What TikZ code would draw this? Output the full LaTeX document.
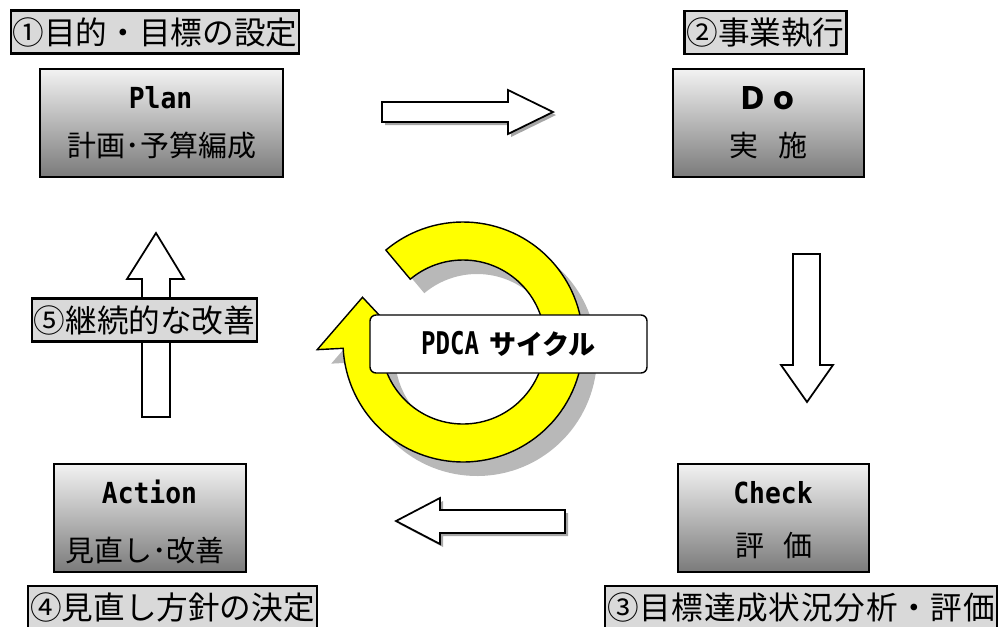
\documentclass[tikz,border=0pt]{standalone}
\usepackage{fontspec}
\newfontfamily\jpfont{Noto Sans CJK JP}
\newfontfamily\ttbold{DejaVu Sans Mono}
\definecolor{ringyellow}{RGB}{255, 255, 0}
\definecolor{taggray}{RGB}{217, 217, 217}
\newlength\pu
\setlength\pu{0.02cm}

\begin{document}
\begin{tikzpicture}[x=0.02cm, y=0.02cm,
  tag/.style={draw=black, line width=1.3pt, fill=taggray, inner xsep=2\pu, inner ysep=0pt,
    minimum height=43\pu, font=\jpfont\fontsize{18pt}{20pt}\selectfont},
  phase/.style={draw=black, line width=1pt, top color=black!5, bottom color=black!52,
    minimum height=108\pu, inner sep=0pt},
  title/.style={anchor=base, inner sep=0pt, font=\ttbold\bfseries\fontsize{15pt}{17pt}\selectfont},
  sub/.style={anchor=base, inner sep=0pt, font=\jpfont\fontsize{16.5pt}{18pt}\selectfont},
  blockarr/.style={draw=black, line width=1pt, fill=white, line join=miter},
  arrshadow/.style={fill=black!35},
  cyclebox/.style={draw=black, line width=0.8pt, fill=white, rounded corners=6\pu,
    minimum width=277\pu, minimum height=58\pu, inner sep=0pt}]
  \useasboundingbox (0,0) rectangle (999,-626);

  % step labels
  \node[tag] (goal) at (155,-32) {①目的・目標の設定};
  \node[tag] (exec) at (765.5,-32.5) {②事業執行};
  \node[tag] (eval) at (801,-607.5) {\makebox[388\pu]{③\hfill 目\hfill 標\hfill 達\hfill 成\hfill 状\hfill 況\hfill 分\hfill 析\hfill ・\hfill 評\hfill 価}};
  \node[tag] (policy) at (172.5,-607.5) {④見直し方針の決定};

  % the four phases
  \node[phase, minimum width=243\pu] (plan) at (161.5,-123) {};
  \node[title] (plantitle) at (160.5,-108) {\scalebox{1}[1.1]{Plan}};
  \node[sub] (plansub) at (162,-156) {計画･予算編成};

  \node[phase, minimum width=191\pu] (do) at (768.5,-123) {};
  \node[title, font=\jpfont\bfseries\fontsize{17.5pt}{19pt}\selectfont] (dotitle) at (768.5,-109) {Ｄｏ};
  \node[sub] (dosub) at (768.5,-156) {実\hspace{20\pu}施};

  \node[phase, minimum width=191\pu] (check) at (773.5,-518) {};
  \node[title] (checktitle) at (773,-503) {\scalebox{1}[1.1]{Check}};
  \node[sub] (checksub) at (773.5,-556) {評\hspace{19\pu}価};

  \node[phase, minimum width=192\pu] (action) at (150,-518) {};
  \node[title] (actiontitle) at (149.5,-503) {\scalebox{1}[1.1]{Action}};
  \node[sub] (actionsub) at (145,-561) {見直し･改善};

  % block arrows
  \fill[arrshadow, shift={(3,-3)}] (382,-102) -- (508,-102) -- (508,-90) -- (553,-112)
    -- (508,-134) -- (508,-122) -- (382,-122) -- cycle;
  \draw[blockarr] (382,-102) -- (508,-102) -- (508,-90) -- (553,-112)
    -- (508,-134) -- (508,-122) -- (382,-122) -- cycle;
  \draw[blockarr] (793,-254) -- (820,-254) -- (820,-365) -- (833,-365)
    -- (807,-402) -- (781,-365) -- (793,-365) -- cycle;
  \fill[arrshadow, shift={(3,-3)}] (565,-510) -- (440,-510) -- (440,-498) -- (396,-521)
    -- (440,-544) -- (440,-533) -- (565,-533) -- cycle;
  \draw[blockarr] (565,-510) -- (440,-510) -- (440,-498) -- (396,-521)
    -- (440,-544) -- (440,-533) -- (565,-533) -- cycle;
  \draw[blockarr] (142,-417) -- (142,-279) -- (127,-279) -- (156,-233)
    -- (184,-279) -- (170,-279) -- (170,-417) -- cycle;
  \node[tag] (improve) at (144.5,-320) {⑤継続的な改善};

  % cycle arrow
  \begin{scope}[shift={(477,-356)}]
    \fill[black!28] (130:120) arc[start angle=130, end angle=-177, radius=120]
      -- (183:146) -- (156:110) -- (183:56) -- (183:82)
      arc[start angle=-177, end angle=130, radius=82] -- cycle;
  \end{scope}
  \begin{scope}[shift={(463,-342)}]
    \draw[line width=0.8pt, fill=ringyellow, line join=miter] (130:120)
      arc[start angle=130, end angle=-177, radius=120]
      -- (183:146) -- (156:110) -- (183:56) -- (183:82)
      arc[start angle=-177, end angle=130, radius=82] -- cycle;
  \end{scope}
  \node[cyclebox] (cycle) at (508.5,-344) {{\ttbold\bfseries\fontsize{13.7pt}{15pt}\selectfont\scalebox{1}[1.3]{PDCA}}\hspace{10\pu}{\jpfont\bfseries\fontsize{15.4pt}{17pt}\selectfont サイクル}};
\end{tikzpicture}
\end{document}
